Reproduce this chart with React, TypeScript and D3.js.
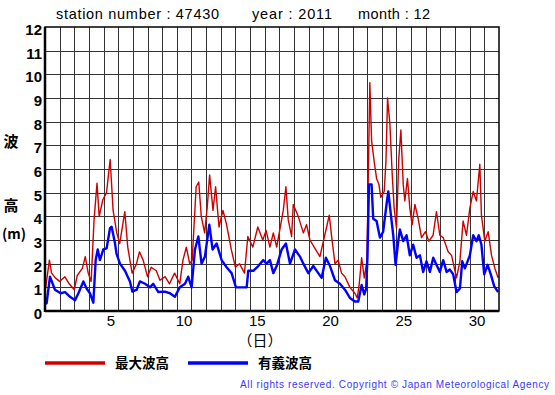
import * as d3 from "d3";

// wave heights, [day of month, metres]
const maxWave: [number, number][] = [
  [1.05, 1.0], [1.3, 2.15], [1.45, 1.6], [1.7, 1.4], [2.0, 1.25], [2.35, 1.45], [2.65, 1.15], [3.0, 0.9],
  [3.2, 1.5], [3.55, 1.8], [3.75, 2.3], [3.95, 1.6], [4.15, 1.25], [4.35, 3.85], [4.55, 5.4], [4.7, 4.0],
  [4.95, 4.7], [5.2, 5.0], [5.45, 6.4], [5.65, 4.25], [5.9, 3.3], [6.1, 2.85], [6.45, 4.2], [6.65, 2.7],
  [6.95, 1.6], [7.25, 2.0], [7.45, 2.5], [7.7, 2.15], [8.0, 1.45], [8.25, 1.85], [8.6, 1.7], [8.85, 1.3],
  [9.2, 1.45], [9.5, 1.15], [9.85, 1.6], [10.2, 1.15], [10.42, 2.15], [10.65, 2.7], [10.88, 2.0], [11.05, 2.15],
  [11.32, 5.25], [11.5, 5.45], [11.67, 4.0], [11.9, 3.3], [12.08, 4.4], [12.24, 5.75], [12.47, 4.25], [12.65, 5.25],
  [12.88, 3.55], [13.15, 4.25], [13.38, 3.7], [13.72, 2.6], [14.0, 1.85], [14.28, 2.0], [14.62, 1.6], [14.85, 3.15],
  [15.19, 2.7], [15.53, 3.55], [15.87, 3.0], [16.1, 3.4], [16.36, 2.7], [16.59, 3.3], [16.82, 2.7], [17.27, 4.25],
  [17.45, 5.25], [17.61, 3.85], [17.84, 3.15], [17.95, 4.5], [18.29, 4.0], [18.64, 3.3], [18.86, 3.65], [19.09, 3.0],
  [19.43, 2.65], [19.77, 2.3], [20.23, 3.55], [20.41, 4.05], [20.57, 3.15], [20.8, 2.0], [21.02, 2.15], [21.25, 1.6],
  [21.48, 1.45], [21.82, 1.0], [22.16, 0.75], [22.32, 0.55], [22.45, 1.1], [22.62, 2.25], [22.8, 1.4], [22.98, 2.1],
  [23.18, 9.65], [23.3, 7.2], [23.48, 6.3], [23.64, 5.6], [23.8, 5.35], [23.93, 4.8], [24.16, 5.05], [24.28, 6.3],
  [24.39, 9.0], [24.55, 7.9], [24.71, 5.75], [24.84, 4.35], [25.0, 3.5], [25.16, 6.45], [25.3, 7.65], [25.46, 5.35],
  [25.57, 4.65], [25.75, 5.6], [25.91, 4.35], [26.07, 3.65], [26.26, 4.5], [26.48, 3.9], [26.71, 3.1], [26.98, 3.35],
  [27.21, 2.95], [27.5, 3.2], [27.73, 4.2], [27.96, 3.2], [28.19, 3.1], [28.53, 2.5], [28.76, 2.35], [29.1, 1.4],
  [29.33, 2.1], [29.55, 3.8], [29.78, 3.2], [30.01, 4.35], [30.24, 5.05], [30.46, 4.65], [30.69, 6.2], [30.8, 4.05],
  [31.03, 2.95], [31.26, 3.35], [31.49, 2.35], [31.72, 1.8], [31.94, 1.4],
];

const sigWave: [number, number][] = [
  [1.05, 0.6], [1.11, 0.32], [1.34, 1.45], [1.68, 0.9], [2.07, 0.75], [2.37, 0.8], [2.71, 0.6], [3.05, 0.45],
  [3.28, 0.75], [3.62, 1.25], [3.84, 0.95], [4.07, 0.75], [4.3, 0.35], [4.46, 2.15], [4.6, 2.6], [4.75, 2.15],
  [4.98, 2.6], [5.21, 2.65], [5.44, 3.5], [5.55, 3.56], [5.78, 2.86], [5.89, 2.4], [6.12, 2.0], [6.46, 1.7],
  [6.8, 1.25], [6.96, 0.82], [7.26, 0.9], [7.48, 1.25], [7.83, 1.15], [8.17, 1.0], [8.39, 1.15], [8.74, 0.8],
  [9.19, 0.82], [9.53, 0.75], [9.87, 0.6], [10.2, 1.0], [10.56, 1.15], [10.78, 1.45], [11.01, 1.0], [11.24, 2.6],
  [11.47, 3.15], [11.69, 2.0], [11.92, 2.3], [12.22, 3.65], [12.44, 2.6], [12.72, 2.85], [13.06, 2.15], [13.4, 1.85],
  [13.74, 1.6], [14.04, 1.0], [14.31, 1.0], [14.77, 1.0], [14.88, 1.7], [15.22, 1.7], [15.56, 1.9], [15.9, 2.15],
  [16.13, 2.0], [16.36, 2.15], [16.59, 1.6], [16.82, 1.9], [17.16, 2.6], [17.45, 2.85], [17.73, 2.0], [18.07, 2.6],
  [18.41, 2.3], [18.64, 2.0], [18.98, 1.6], [19.32, 1.9], [19.66, 1.6], [19.89, 1.4], [20.18, 2.25], [20.46, 1.9],
  [20.8, 1.3], [21.14, 1.15], [21.48, 0.9], [21.82, 0.55], [22.16, 0.4], [22.39, 0.4], [22.62, 1.1], [22.8, 0.7],
  [22.93, 0.95], [23.02, 2.3], [23.12, 5.35], [23.3, 5.35], [23.41, 3.9], [23.64, 3.8], [23.87, 3.1], [24.09, 3.35],
  [24.32, 4.5], [24.44, 5.05], [24.62, 4.05], [24.78, 3.2], [24.94, 1.95], [25.12, 2.95], [25.23, 3.45], [25.46, 2.95],
  [25.69, 3.2], [25.91, 2.35], [26.14, 2.8], [26.37, 2.25], [26.6, 2.35], [26.82, 1.65], [27.05, 2.1], [27.28, 1.65],
  [27.51, 2.25], [27.73, 1.95], [27.96, 1.65], [28.19, 2.15], [28.42, 1.65], [28.64, 1.75], [28.87, 1.55], [29.1, 0.8],
  [29.33, 0.95], [29.49, 2.1], [29.67, 1.8], [30.01, 2.35], [30.24, 3.2], [30.46, 2.95], [30.62, 3.2], [30.8, 2.8],
  [30.99, 1.55], [31.22, 1.95], [31.44, 1.55], [31.67, 1.05], [31.94, 0.8],
];

const yTicks = d3.range(0, 13);
const xTickDays = [5, 10, 15, 20, 25, 30];
const gridDays = d3.range(2, 32);
const legendItems = [
  { label: "最大波高", color: "#cc0000" },
  { label: "有義波高", color: "#0000ff" },
];

const width = 555;
const height = 395;

const marginLeft = 45;
const marginRight = 56;
const marginTop = 27;
const marginBottom = 84;

const sans = "'Liberation Sans', Arial, sans-serif";
const cjk = "'Noto Sans CJK JP', sans-serif";

const App = () => {
  const xScale = d3.scaleLinear().domain([1, 32]).range([marginLeft, width - marginRight]);
  const yScale = d3.scaleLinear().domain([0, 12]).range([height - marginBottom, marginTop]);

  const line = d3
    .line<[number, number]>()
    .x((d) => xScale(d[0]))
    .y((d) => yScale(d[1]));

  const x0 = xScale(1);
  const x1 = xScale(32);
  const yBottom = yScale(0);
  const yTop = yScale(12);

  return (
    <svg
      width={width}
      height={height}
      viewBox={`0 0 ${width} ${height}`}
      style={{ position: "absolute", left: 0, top: 0, background: "#fff" }}
    >
      <defs>
        <clipPath id="plot">
          <rect x={x0} y={yTop} width={x1 - x0} height={yBottom - yTop} />
        </clipPath>
      </defs>

      {/* title */}
      <g fontFamily={sans} fontSize={14.5} fill="#000" lengthAdjust="spacing">
        <text x={56} y={19} textLength={163}>station number : 47430</text>
        <text x={252} y={19} textLength={80}>year : 2011</text>
        <text x={358} y={19} textLength={72}>month : 12</text>
      </g>

      {/* grid */}
      <g className="grid" stroke="#333" strokeWidth={1}>
        {yTicks.slice(1, -1).map((t) => (
          <line key={t} x1={x0} x2={x1} y1={Math.round(yScale(t)) + 0.5} y2={Math.round(yScale(t)) + 0.5} />
        ))}
        {gridDays.map((d) => (
          <line key={d} x1={Math.round(xScale(d)) + 0.5} x2={Math.round(xScale(d)) + 0.5} y1={yTop} y2={yBottom} />
        ))}
      </g>

      {/* series */}
      <g clipPath="url(#plot)" fill="none" strokeLinejoin="round">
        <path d={line(maxWave) ?? ""} stroke="#cc0000" strokeWidth={1.4} />
        <path d={line(sigWave) ?? ""} stroke="#0000ff" strokeWidth={2.4} />
      </g>

      {/* frame */}
      <rect x={x0} y={yTop} width={x1 - x0} height={yBottom - yTop} fill="none" stroke="#000" strokeWidth={1.5} />
      <line x1={x0} x2={x0} y1={yTop} y2={yBottom + 1} stroke="#000" strokeWidth={2.5} />
      <line x1={x0} x2={x1} y1={yBottom} y2={yBottom} stroke="#000" strokeWidth={2.5} />

      {/* y tick labels */}
      <g fontFamily={sans} fontSize={15} fontWeight="bold" textAnchor="end">
        {yTicks.map((t) => (
          <text key={t} x={42} y={yScale(t) + 8}>
            {t}
          </text>
        ))}
      </g>

      {/* x tick labels, centred on each day */}
      <g fontFamily={sans} fontSize={15} textAnchor="middle">
        {xTickDays.map((d) => (
          <text key={d} x={xScale(d + 0.5)} y={326}>
            {d}
          </text>
        ))}
      </g>

      {/* axis titles */}
      <g fontFamily={cjk} fontSize={15} fontWeight="bold" textAnchor="middle">
        <text x={11} y={147}>波</text>
        <text x={11} y={211}>高</text>
        <text x={14} y={239} fontSize={14}>(m)</text>
      </g>
      <text x={260} y={346} fontFamily={cjk} fontSize={15} textAnchor="middle">
        （日）
      </text>

      {/* legend */}
      <g>
        {legendItems.map((item, i) => (
          <g key={item.label} transform={`translate(${45 + i * 143},363)`}>
            <line x1={0} x2={60} y1={0} y2={0} stroke={item.color} strokeWidth={3.5} />
            <text x={70} y={5} fontFamily={cjk} fontSize={13.5} fontWeight="bold">
              {item.label}
            </text>
          </g>
        ))}
      </g>

      <text
        x={240}
        y={388}
        fontFamily={sans}
        fontSize={10}
        fill="#3838ff"
        textLength={309}
        lengthAdjust="spacing"
      >
        All rights reserved. Copyright © Japan Meteorological Agency
      </text>
    </svg>
  );
};

export default App;
